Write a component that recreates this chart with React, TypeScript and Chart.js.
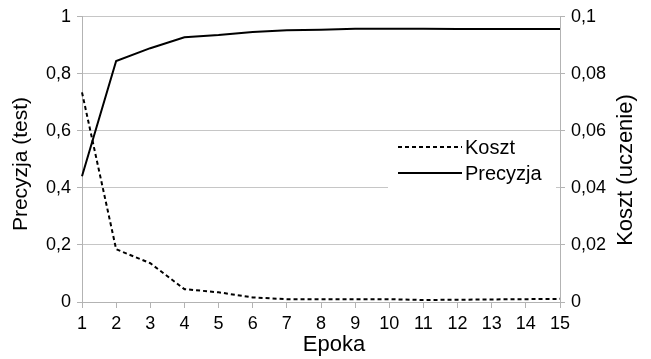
import React, { useEffect, useRef } from "react";
import { Chart, registerables } from "chart.js";

Chart.register(...registerables);

const epochs = [1, 2, 3, 4, 5, 6, 7, 8, 9, 10, 11, 12, 13, 14, 15];
const precision = [0.441, 0.845, 0.89, 0.928, 0.936, 0.947, 0.953, 0.955, 0.958, 0.958, 0.958, 0.957, 0.957, 0.957, 0.957];
const cost = [0.0735, 0.0185, 0.0136, 0.0045, 0.0034, 0.0016, 0.001, 0.001, 0.001, 0.001, 0.0007, 0.0008, 0.0009, 0.001, 0.0011];
const leftTicks = ["0", "0,2", "0,4", "0,6", "0,8", "1"];
const rightTicks = ["0", "0,02", "0,04", "0,06", "0,08", "0,1"];
const xTitle = "Epoka";
const leftTitle = "Precyzja (test)";
const rightTitle = "Koszt (uczenie)";

const FONT = "'Liberation Sans', Arial, sans-serif";
const GRID = "#b3b3b3";

const decorPlugin = {
  id: "decor",
  afterDraw(chart: any) {
    const ctx = chart.ctx;
    ctx.save();
    ctx.fillStyle = "#000";
    ctx.textAlign = "center";
    ctx.textBaseline = "middle";
    ctx.font = `22px ${FONT}`;
    ctx.fillText(xTitle, 334, 345);
    ctx.save();
    ctx.translate(21, 164);
    ctx.rotate(-Math.PI / 2);
    ctx.font = `21px ${FONT}`;
    ctx.fillText(leftTitle, 0, 0);
    ctx.restore();
    ctx.save();
    ctx.translate(626, 170);
    ctx.rotate(-Math.PI / 2);
    ctx.font = `22px ${FONT}`;
    ctx.fillText(rightTitle, 0, 0);
    ctx.restore();
    ctx.restore();
  },
  afterDatasetsDraw(chart: any) {
    const ctx = chart.ctx;
    ctx.save();
    ctx.fillStyle = "#ffffff";
    ctx.fillRect(388, 135, 168, 57);
    const rows = [
      { y: 147, label: chart.data.datasets[0].label, dash: [4, 3] },
      { y: 173, label: chart.data.datasets[1].label, dash: [] },
    ];
    rows.forEach((r) => {
      ctx.strokeStyle = "#000";
      ctx.lineWidth = 2;
      ctx.setLineDash(r.dash);
      ctx.beginPath();
      ctx.moveTo(398, r.y);
      ctx.lineTo(462, r.y);
      ctx.stroke();
      ctx.setLineDash([]);
      ctx.fillStyle = "#000";
      ctx.font = `20px ${FONT}`;
      ctx.textBaseline = "middle";
      ctx.textAlign = "left";
      ctx.fillText(r.label, 465, r.y + 1);
    });
    ctx.restore();
  },
};

export default function App() {
  const ref = useRef<HTMLCanvasElement | null>(null);
  useEffect(() => {
    document.body.style.margin = "0";
    const chart = new Chart(ref.current!, {
      type: "line",
      data: {
        labels: epochs.map(String),
        datasets: [
          {
            label: "Koszt",
            data: cost,
            yAxisID: "y1",
            borderColor: "#000",
            borderWidth: 2,
            borderDash: [4, 3],
            pointRadius: 0,
            tension: 0,
            fill: false,
          },
          {
            label: "Precyzja",
            data: precision,
            yAxisID: "y",
            borderColor: "#000",
            borderWidth: 2,
            pointRadius: 0,
            tension: 0,
            fill: false,
          },
        ],
      },
      options: {
        animation: false,
        responsive: false,
        maintainAspectRatio: false,
        layout: { padding: { top: 16, left: 0, right: 0, bottom: 0 } },
        plugins: { legend: { display: false }, tooltip: { enabled: false } },
        scales: {
          x: {
            offset: false,
            grid: { drawOnChartArea: false, drawTicks: true, tickLength: 6, color: GRID },
            border: { color: GRID, width: 1 },
            ticks: { color: "#000", font: { family: FONT, size: 18 }, padding: 5, maxRotation: 0, autoSkip: false },
            afterFit(s: any) { s.height = 57; },
          },
          y: {
            position: "left",
            min: 0,
            max: 1,
            ticks: {
              stepSize: 0.2,
              color: "#000",
              font: { family: FONT, size: 18 },
              padding: 6,
              callback: (_v: any, i: number) => leftTicks[i],
            },
            grid: { color: "#c6c6c6", tickLength: 5, tickColor: GRID },
            border: { color: GRID, width: 1 },
            afterFit(s: any) { s.width = 82; },
          },
          y1: {
            position: "right",
            min: 0,
            max: 0.1,
            ticks: {
              stepSize: 0.02,
              color: "#000",
              font: { family: FONT, size: 18 },
              padding: 6,
              callback: (_v: any, i: number) => rightTicks[i],
            },
            grid: { drawOnChartArea: false, tickLength: 5, color: GRID },
            border: { color: GRID, width: 1 },
            afterFit(s: any) { s.width = 91; },
          },
        },
      },
      plugins: [decorPlugin],
    });
    return () => chart.destroy();
  }, []);
  return (
    <div style={{ position: "absolute", left: 0, top: 0, width: 651, height: 359 }}>
      <canvas ref={ref} width={651} height={359} style={{ display: "block", width: 651, height: 359 }} />
    </div>
  );
}
